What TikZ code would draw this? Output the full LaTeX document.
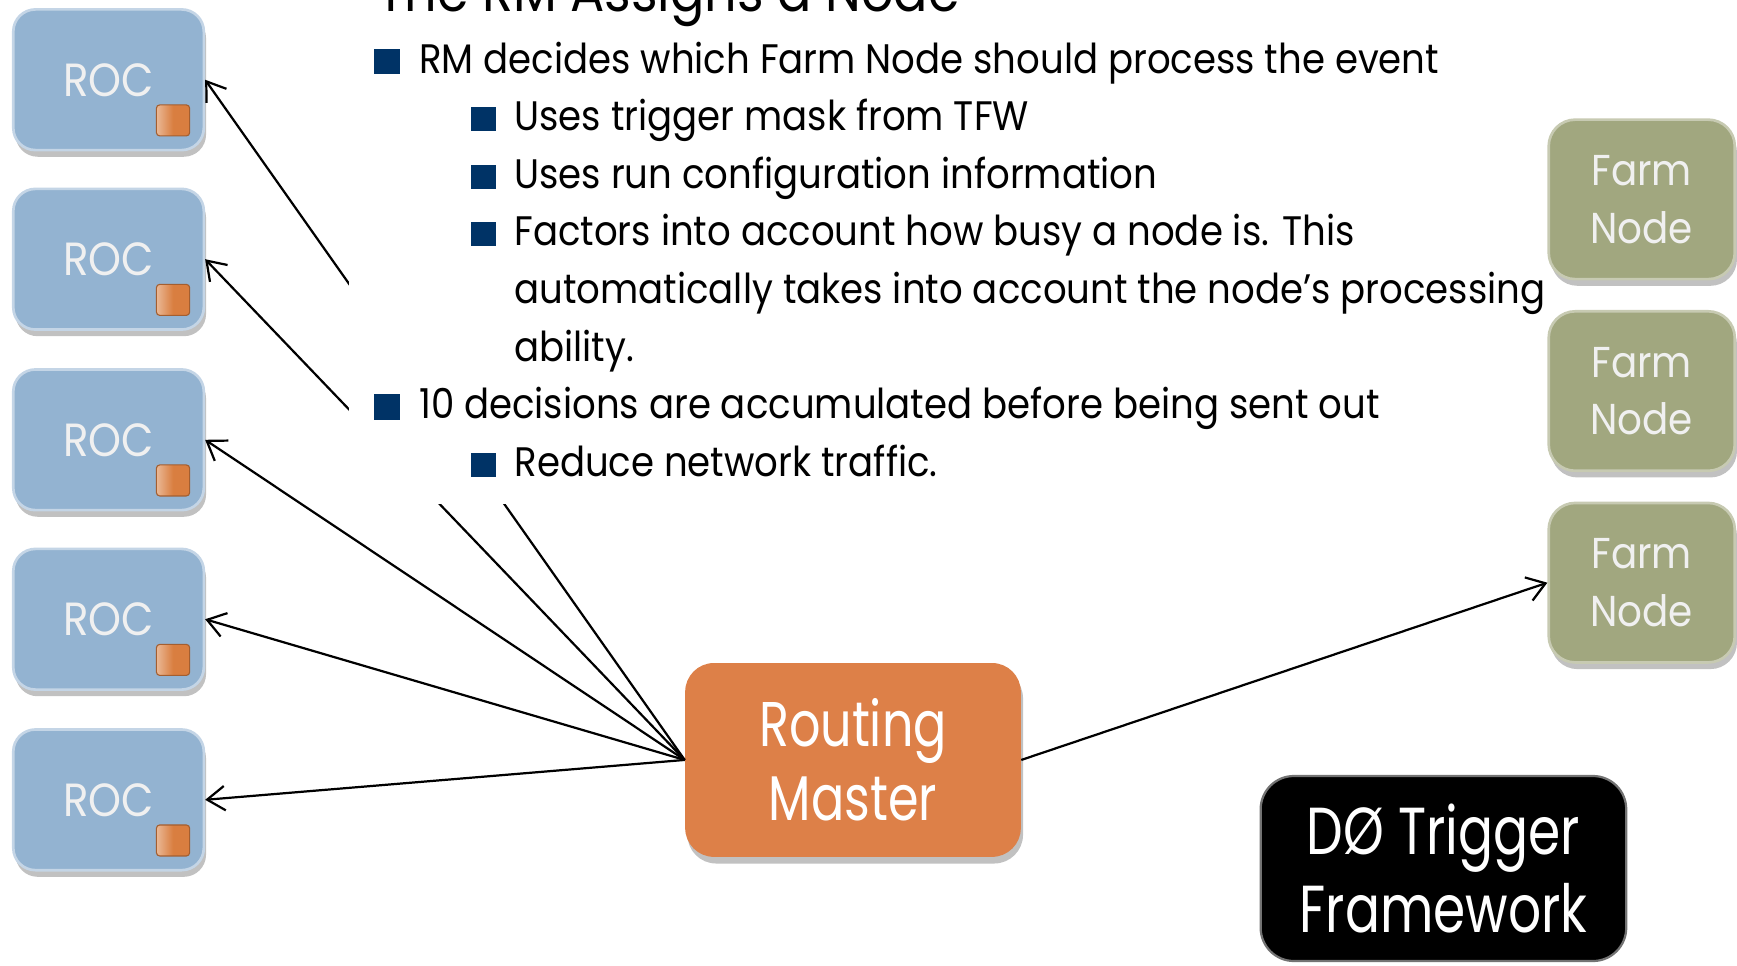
\documentclass[tikz,border=0pt]{standalone}
\usepackage{fontspec}
\setmainfont{Poppins}[FakeStretch=0.9]
\newfontfamily\narrowfont{Poppins}[FakeStretch=0.78]
\usetikzlibrary{arrows.meta,shadows,positioning}
\definecolor{rocblue}{HTML}{93B3D1}
\definecolor{rocport}{HTML}{D97E40}
\definecolor{rmorange}{HTML}{DD8048}
\definecolor{farmgreen}{HTML}{A1A77F}
\definecolor{bulletblue}{HTML}{003366}
\definecolor{boxtext}{HTML}{F0F0F0}
\begin{document}
\begin{tikzpicture}[x=0.5pt,y=-0.5pt,
    boxshadow/.style={drop shadow={shadow xshift=1pt,shadow yshift=-3pt,opacity=0.35,fill=black!70}},
    rocbox/.style={draw=rocblue!55!white, line width=1.2pt, fill=rocblue, rounded corners=10pt,
        minimum width=86pt, minimum height=63.5pt, inner sep=0pt, text=boxtext,
        font=\fontsize{21}{24}\selectfont, boxshadow},
    portsq/.style={draw=rocport!75!black, line width=0.5pt, left color=rocport!55!white, right color=rocport,
        middle color=rocport, rounded corners=1.5pt,
        minimum width=15pt, minimum height=14pt, inner sep=0pt},
    farmbox/.style={draw=farmgreen!60!white, line width=1.2pt, fill=farmgreen, rounded corners=12pt,
        minimum width=84pt, minimum height=72pt, inner sep=0pt, text=boxtext, align=center,
        font=\fontsize{19.5}{26}\selectfont, boxshadow},
    rmbox/.style={fill=rmorange, rounded corners=13pt, minimum width=151.5pt, minimum height=87.5pt,
        inner sep=0pt, text=white, align=center, font=\narrowfont\fontsize{28.5}{33.5}\selectfont, boxshadow},
    tfwbox/.style={draw=black!55, line width=1pt, fill=black, rounded corners=15pt,
        minimum width=165pt, minimum height=83.5pt, inner sep=0pt, text=white, align=center,
        font=\narrowfont\fontsize{30}{35}\selectfont},
    link/.style={line width=1pt, -{Straight Barb[length=8pt,width=11pt,line width=1pt]}},
    bodytext/.style={anchor=base west, inner sep=0pt, font=\fontsize{18.6}{26}\selectfont},
    titletext/.style={anchor=base west, inner sep=0pt, font=\fontsize{25.5}{30}\selectfont},
    bulletone/.style={fill=bulletblue, minimum size=11.5pt, inner sep=0pt},
    bullettwo/.style={fill=bulletblue, minimum size=11pt, inner sep=0pt}]
\useasboundingbox (0,0) rectangle (1568,872);
\clip (0,0) rectangle (1568,872);

% readout crates
\foreach \i/\y in {1/72,2/234,3/397,4/559,5/722} {
    \node[rocbox] (roc\i) at (98,\y) {ROC};
    \node[portsq] (port\i) at ([xshift=-14.5pt,yshift=14pt]roc\i.south east) {};
}

% farm nodes
\foreach \i/\y in {1/180,2/353,3/526}
    \node[farmbox] (farm\i) at (1482,\y) {Farm\\Node};

\node[rmbox] (rm) at (770,686) {Routing\\Master};
\node[tfwbox] (tfw) at (1303,784) {DØ Trigger\\Framework};

% decisions
\foreach \i in {1,...,5}
    \draw[link] (rm.west) -- (roc\i.east);
\draw[link] (rm.east) -- (farm3.west);

% text block (white fill hides the lines behind it)
\fill[white] (315,-10) rectangle (1392,455);
\node[titletext] (title) at (340,10) {The RM Assigns a Node};
\node[bulletone] (b1) at (349.5,55.5) {};
\node[bodytext] (t1) at (378,66) {RM decides which Farm Node should process the event};
\node[bullettwo] (b2) at (436.5,107.5) {};
\node[bodytext] (t2) at (464,118) {Uses trigger mask from TFW};
\node[bullettwo] (b3) at (436.5,159.5) {};
\node[bodytext] (t3) at (464,170) {Uses run configuration information};
\node[bullettwo] (b4) at (436.5,211.5) {};
\node[bodytext] (t4) at (464,222) {Factors into account how busy a node is. This};
\node[bodytext] (t5) at (464,274) {automatically takes into account the node’s processing};
\node[bodytext] (t6) at (464,326) {ability.};
\node[bulletone] (b5) at (349.5,367.5) {};
\node[bodytext] (t7) at (378,378) {10 decisions are accumulated before being sent out};
\node[bullettwo] (b6) at (436.5,419.5) {};
\node[bodytext] (t8) at (464,430) {Reduce network traffic.};
\end{tikzpicture}
\end{document}
